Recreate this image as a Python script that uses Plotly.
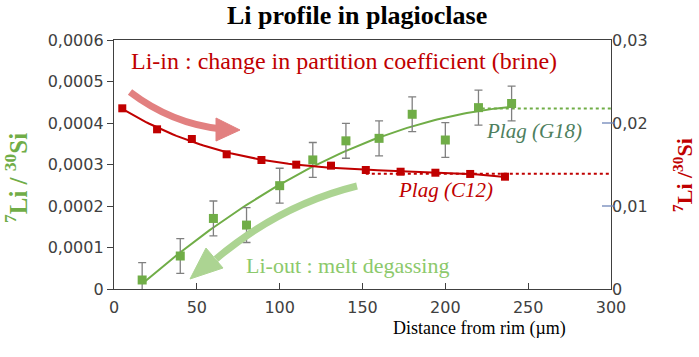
import numpy as np
import plotly.graph_objects as go

# ---------------- data ----------------
g18_x = [17, 40, 60, 80, 100, 120, 140, 160, 180, 200, 220, 240]
g18_y = [0.0000217, 0.0000795, 0.000170, 0.000154, 0.000249, 0.000311,
         0.000357, 0.000363, 0.000421, 0.000359, 0.000437, 0.000447]
g18_err = 0.000042
g18_plateau = 0.000435
g18_plateau_x = [222, 300]

c12_x = [5, 26, 47, 68, 89, 110, 131, 152, 173, 194, 215, 236]
c12_y = [0.02177, 0.01924, 0.01807, 0.01623, 0.01554, 0.01498,
         0.01486, 0.01434, 0.01413, 0.01401, 0.01386, 0.01353]
c12_plateau = 0.0139
c12_plateau_x = [152, 300]

x_ticks = [0, 50, 100, 150, 200, 250, 300]
y_ticks = [0, 0.0001, 0.0002, 0.0003, 0.0004, 0.0005, 0.0006]
y_ticklabels = ["0", "0,0001", "0,0002", "0,0003", "0,0004", "0,0005", "0,0006"]
y2_ticks = [0, 0.01, 0.02, 0.03]
y2_ticklabels = ["0", "0,01", "0,02", "0,03"]

GREEN = "#70AD47"
RED = "#C00000"
AXIS = "#404040"

# plot area geometry (pixels)
W, H = 699, 357
L, R, T, B = 114, 611, 40, 289


def X(px):
    return (px - L) / (R - L) * 300


def Y(py):
    return (B - py) / (B - T) * 0.0006


def PX(px):
    return (px - L) / (R - L)


def PY(py):
    return (B - py) / (B - T)


fig = go.Figure()

# trendlines from data fits
gc = np.polyfit(g18_x, g18_y, 2)
gx = np.linspace(min(g18_x), max(g18_x), 100)
fig.add_trace(go.Scatter(x=gx, y=np.polyval(gc, gx), mode="lines",
                         line=dict(color=GREEN, width=2), hoverinfo="skip"))
rc = np.polyfit(c12_x, c12_y, 3)
rx = np.linspace(min(c12_x), max(c12_x), 100)
fig.add_trace(go.Scatter(x=rx, y=np.polyval(rc, rx), mode="lines", yaxis="y2",
                         line=dict(color=RED, width=2), hoverinfo="skip"))

# plateau dotted lines
fig.add_trace(go.Scatter(x=g18_plateau_x, y=[g18_plateau] * 2, mode="lines",
                         line=dict(color=GREEN, width=2, dash="dot")))
fig.add_trace(go.Scatter(x=c12_plateau_x, y=[c12_plateau] * 2, mode="lines", yaxis="y2",
                         line=dict(color=RED, width=2, dash="dot")))

# markers
fig.add_trace(go.Scatter(x=c12_x, y=c12_y, mode="markers", yaxis="y2",
                         marker=dict(symbol="square", size=8, color=RED)))
fig.add_trace(go.Scatter(x=g18_x, y=g18_y, mode="markers",
                         marker=dict(symbol="square", size=9, color=GREEN),
                         error_y=dict(type="constant", value=g18_err, color="#808080",
                                      thickness=1.3, width=4)))

# curved arrows
red_arrow = "rgb(226,128,128)"
fig.add_shape(type="path", xref="x", yref="y",
              path=f"M {X(130)},{Y(92)} Q {X(172)},{Y(124)} {X(222)},{Y(129)}",
              line=dict(color=red_arrow, width=7))
fig.add_shape(type="path", xref="x", yref="y",
              path=f"M {X(240)},{Y(130)} L {X(216)},{Y(118)} L {X(216)},{Y(141)} Z",
              fillcolor=red_arrow, line=dict(color=red_arrow, width=1))
green_arrow = "rgb(172,212,146)"
fig.add_shape(type="path", xref="x", yref="y",
              path=f"M {X(357)},{Y(186)} Q {X(280)},{Y(205)} {X(216)},{Y(259)}",
              line=dict(color=green_arrow, width=7))
fig.add_shape(type="path", xref="x", yref="y",
              path=f"M {X(190)},{Y(279)} L {X(206)},{Y(248)} L {X(223)},{Y(268)} Z",
              fillcolor=green_arrow, line=dict(color=green_arrow, width=1))

# blue marks on the right axis
for v in [0.01, 0.02]:
    fig.add_shape(type="line", xref="paper", yref="y2", x0=PX(602), x1=PX(615), y0=v, y1=v,
                  line=dict(color="#6F86B8", width=1.3))

serif = "Liberation Serif"
ann = []
ann.append(dict(text="<b>Li profile in plagioclase</b>", x=PX(357), y=PY(16),
                font=dict(family=serif, size=26, color="black")))
ann.append(dict(text="Li-in : change in partition coefficient (brine)", x=PX(129), y=PY(61),
                xanchor="left", font=dict(family=serif, size=24, color=RED)))
ann.append(dict(text="Li-out : melt degassing", x=PX(244), y=PY(265),
                xanchor="left", font=dict(family=serif, size=22, color="#8CC96B")))
ann.append(dict(text="<i>Plag (G18)</i>", x=PX(484), y=PY(131),
                xanchor="left", font=dict(family=serif, size=21, color="#4E7F5E")))
ann.append(dict(text="<i>Plag (C12)</i>", x=PX(396), y=PY(190),
                xanchor="left", font=dict(family=serif, size=21, color=RED)))
ann.append(dict(text="Distance from rim (µm)", x=PX(391), y=PY(328),
                xanchor="left", font=dict(family=serif, size=18, color="black")))
ann.append(dict(text="<b><sup>7</sup>Li / <sup>30</sup>Si</b>", x=PX(16), y=PY(178), textangle=-90,
                font=dict(family=serif, size=25, color=GREEN)))
ann.append(dict(text="<b><sup>7</sup>Li /<sup>30</sup>Si</b>", x=PX(683), y=PY(175), textangle=-90,
                font=dict(family=serif, size=22, color=RED)))
for a in ann:
    a.update(xref="paper", yref="paper", showarrow=False)
    a.setdefault("xanchor", "center")
    a["yanchor"] = "middle"

tickfont = dict(family="DejaVu Sans", size=16, color=AXIS)
fig.update_layout(
    width=W, height=H,
    margin=dict(l=L, r=W - R, t=T, b=H - B),
    plot_bgcolor="white", paper_bgcolor="white",
    showlegend=False,
    annotations=ann,
    xaxis=dict(range=[0, 300], tickvals=x_ticks, showgrid=False, zeroline=False,
               showline=True, linecolor=AXIS, linewidth=1.3, mirror=True,
               ticks="inside", ticklen=6, tickcolor=AXIS, tickfont=tickfont,
               ticklabelstandoff=4),
    yaxis=dict(range=[0, 0.0006], tickvals=y_ticks, ticktext=y_ticklabels,
               showgrid=False, zeroline=False, showline=True, linecolor=AXIS,
               linewidth=1.3, mirror=True, ticks="outside", ticklen=6,
               tickcolor=AXIS, tickfont=tickfont),
    yaxis2=dict(range=[0, 0.03], overlaying="y", side="right", tickvals=y2_ticks,
                ticktext=y2_ticklabels, showgrid=False, zeroline=False,
                showline=False, ticks="", tickfont=tickfont),
)

fig.write_html("out.html", config={"displayModeBar": False},
               post_script="document.body.style.margin='0';")
